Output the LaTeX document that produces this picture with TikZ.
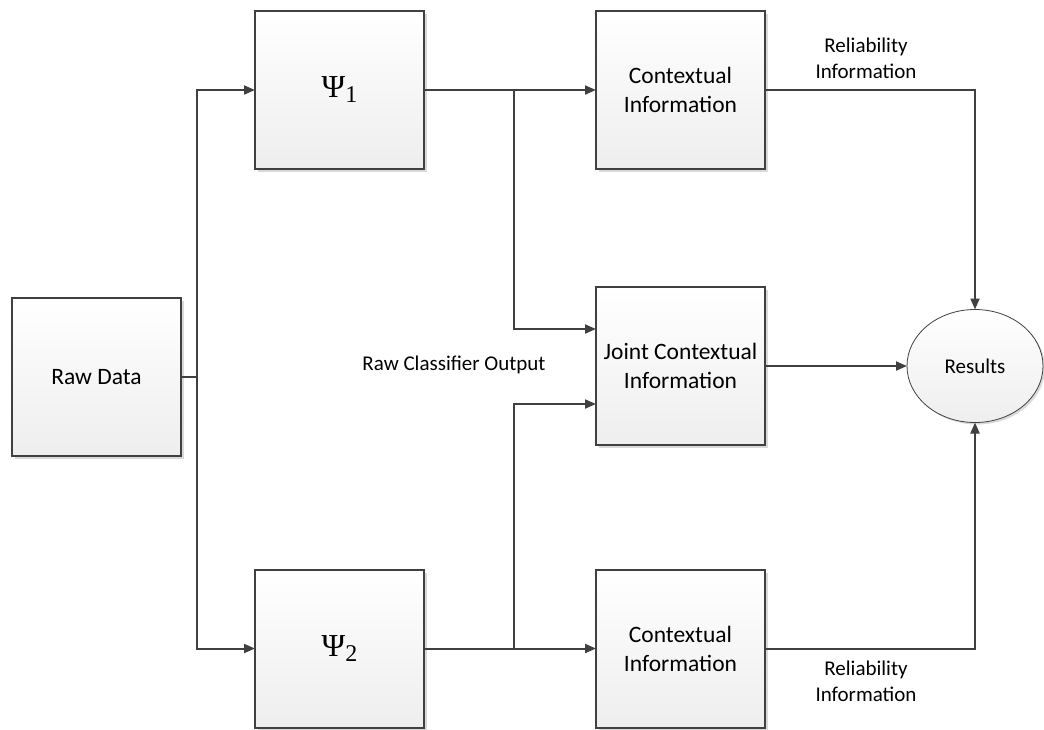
\documentclass[tikz,border=0pt]{standalone}
\usepackage{fontspec}
\setmainfont{Carlito}
\newfontfamily\greekserif{Liberation Serif}
\usetikzlibrary{arrows.meta,shadows,shapes.geometric}
\definecolor{edge}{HTML}{404040}
\definecolor{shade}{HTML}{EEEEEE}
% classifier symbol with a large subscript
\newcommand{\classpsi}[1]{{\greekserif\fontsize{32}{36}\selectfont Ψ\raisebox{-5pt}{\fontsize{24}{28}\selectfont #1}}}
\begin{document}
\begin{tikzpicture}[x=1pt,y=-1pt,
  block/.style={draw=edge,line width=2pt,top color=white,bottom color=shade,
    minimum width=169pt,minimum height=158pt,outer sep=0pt,align=center,
    font=\fontsize{23.5}{29}\selectfont,
    drop shadow={shadow xshift=3pt,shadow yshift=-3pt,fill=black!25,opacity=0.6}},
  outcome/.style={ellipse,draw=edge,line width=0.8pt,top color=white,bottom color=shade,
    minimum width=136pt,minimum height=113pt,inner sep=0pt,outer sep=0pt,
    font=\fontsize{21}{25}\selectfont,
    drop shadow={shadow xshift=2pt,shadow yshift=-2pt,fill=black!25,opacity=0.6}},
  lbl/.style={align=center,font=\fontsize{21}{26}\selectfont},
  arr/.style={draw=edge,line width=2pt,-{Triangle[length=11pt,width=9pt]}},
  ln/.style={draw=edge,line width=2pt}]
\useasboundingbox (0,0) rectangle (1044,729);

% processing blocks
\node[block] (raw)   at (96.5,377) {Raw Data};
\node[block] (psi1)  at (339.5,90) {\classpsi{1}};
\node[block] (psi2)  at (339.5,648.5) {\classpsi{2}};
\node[block] (ctx1)  at (680.5,90) {Contextual\\Information};
\node[block] (joint) at (680.5,366) {Joint Contextual\\Information};
\node[block] (ctx2)  at (680.5,648.5) {Contextual\\Information};
\node[outcome] (res) at (975,366) {Results};

% branching points
\coordinate (trunk) at (197,377);
\coordinate (b1) at (514,90);
\coordinate (b2) at (514,648.5);

% connectors
\draw[ln] (raw.east) -- (trunk);
\draw[arr] (trunk) |- (psi1.west);
\draw[arr] (trunk) |- (psi2.west);
\draw[arr] (psi1.east) -- (ctx1.west);
\draw[arr] (psi2.east) -- (ctx2.west);
\draw[arr] (b1) |- ([yshift=37pt]joint.west);
\draw[arr] (b2) |- ([yshift=-38pt]joint.west);
\draw[arr] (ctx1.east) -| (res.north);
\draw[arr] (joint.east) -- (res.west);
\draw[arr] (ctx2.east) -| (res.south);

% labels
\node[lbl] (rel1) at (866,58) {Reliability\\Information};
\node[lbl] (rel2) at (866,681) {Reliability\\Information};
\node[lbl] (rco)  at (454,365) {Raw Classifier Output};
\end{tikzpicture}
\end{document}
